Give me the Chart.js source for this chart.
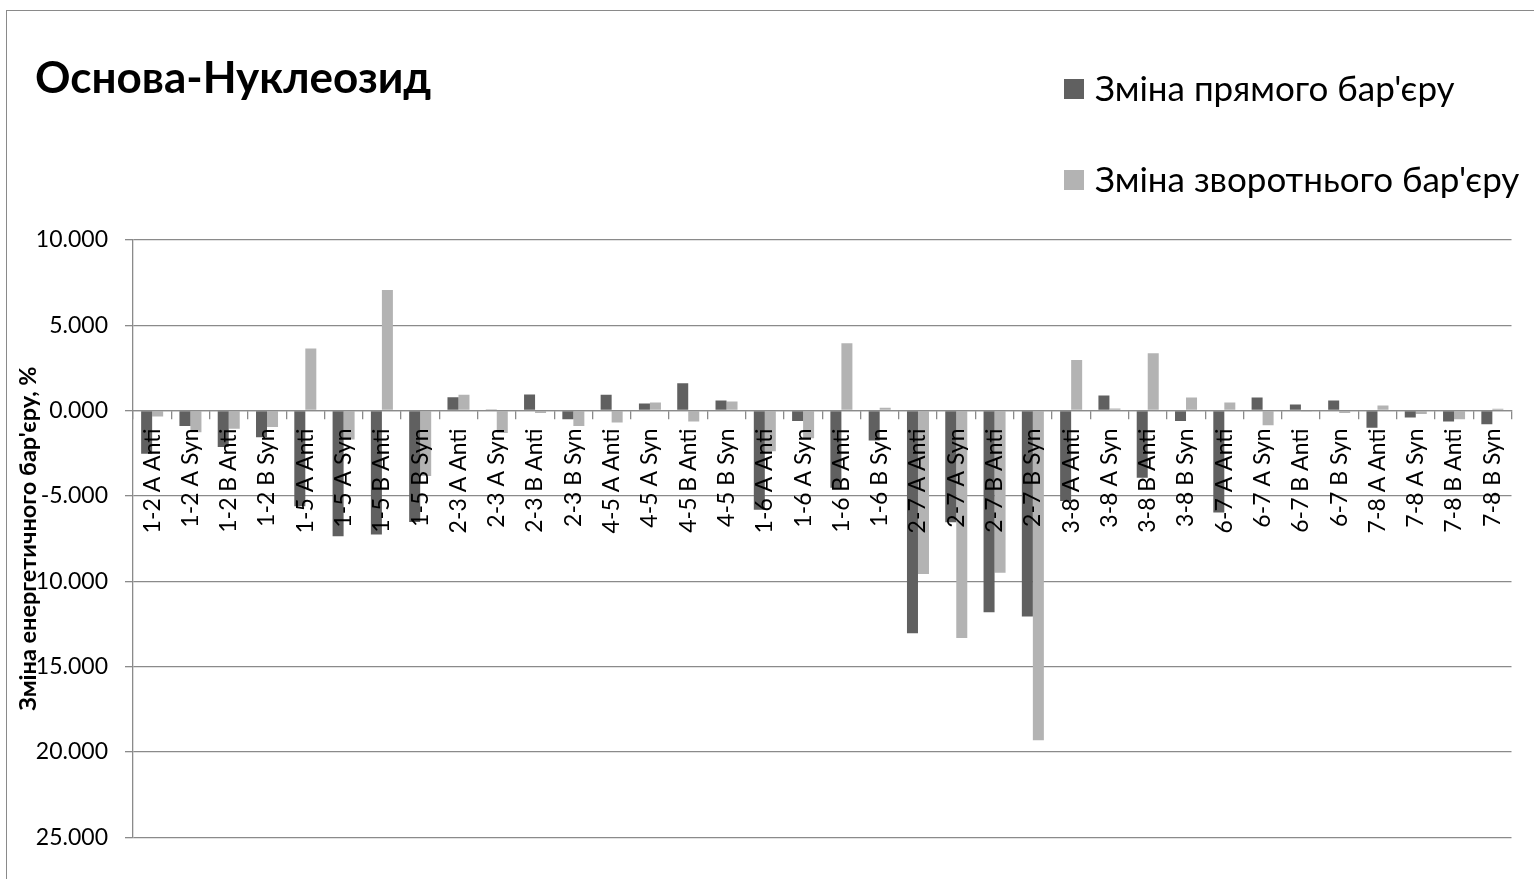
<!DOCTYPE html>
<html>
<head>
<meta charset="utf-8">
<script src="https://cdn.jsdelivr.net/npm/chart.js@4.4.1/dist/chart.umd.min.js"></script>
<style>
  html, body { margin: 0; padding: 0; background: #fff; width: 1534px; height: 879px; overflow: hidden; }
  #frame { position: absolute; left: 6px; top: 10px; width: 1700px; height: 1000px; border: 1.5px solid #8a8a8a; box-sizing: border-box; }
  #chart { position: absolute; left: 0; top: 0; }
  .lg { position: absolute; left: 1064px; height: 40px; line-height: 40px; white-space: nowrap;
        font-family: Lato, 'Noto Sans', sans-serif; font-size: 35px; color: #000; }
  .sw { display: inline-block; width: 20px; height: 20px; margin-right: 11px; vertical-align: middle; position: relative; top: -3px; }
</style>
</head>
<body>
<div id="frame"></div>
<canvas id="chart" width="1534" height="879"></canvas>
<div id="legend"></div>
<script>
const chartTitle = "Основа-Нуклеозид";
const yAxisTitle = "Зміна енергетичного бар'єру, %";
const seriesNames = ["Зміна прямого бар'єру", "Зміна зворотнього бар'єру"];
const seriesColors = ["#606060", "#b3b3b3"];
const categories = [
  "1-2 A Anti", "1-2 A Syn", "1-2 B Anti", "1-2 B Syn",
  "1-5 A Anti", "1-5 A Syn", "1-5 B Anti", "1-5 B Syn",
  "2-3 A Anti", "2-3 A Syn", "2-3 B Anti", "2-3 B Syn",
  "4-5 A Anti", "4-5 A Syn", "4-5 B Anti", "4-5 B Syn",
  "1-6 A Anti", "1-6 A Syn", "1-6 B Anti", "1-6 B Syn",
  "2-7 A Anti", "2-7 A Syn", "2-7 B Anti", "2-7 B Syn",
  "3-8 A Anti", "3-8 A Syn", "3-8 B Anti", "3-8 B Syn",
  "6-7 A Anti", "6-7 A Syn", "6-7 B Anti", "6-7 B Syn",
  "7-8 A Anti", "7-8 A Syn", "7-8 B Anti", "7-8 B Syn"
];
const forwardBarrier = [
  -2.53, -0.90, -2.14, -1.56,
  -5.61, -7.37, -7.27, -6.53,
  0.78, 0.03, 0.94, -0.51,
  0.92, 0.41, 1.60, 0.58,
  -5.81, -0.62, -4.52, -1.75,
  -13.04, -6.55, -11.81, -12.07,
  -5.30, 0.88, -3.94, -0.62,
  -5.98, 0.76, 0.35, 0.58,
  -1.01, -0.41, -0.64, -0.80
];
const reverseBarrier = [
  -0.35, -1.27, -1.07, -0.97,
  3.63, -1.70, 7.06, -3.84,
  0.92, -1.31, -0.14, -0.90,
  -0.70, 0.47, -0.64, 0.53,
  -2.38, -1.62, 3.94, 0.16,
  -9.57, -13.33, -9.50, -19.32,
  2.96, 0.12, 3.35, 0.76,
  0.47, -0.86, -0.03, -0.14,
  0.29, -0.21, -0.51, 0.10
];
const yMin = -25, yMax = 10, yStep = 5;

const FONT = "Lato, 'Noto Sans', sans-serif";
const gridColor = "#8a8a8a";

// HTML legend built from series names
const legendTops = [67, 158];
const legendEl = document.getElementById('legend');
seriesNames.forEach((name, i) => {
  const d = document.createElement('div');
  d.className = 'lg';
  d.style.top = legendTops[i] + 'px';
  const sw = document.createElement('span');
  sw.className = 'sw';
  sw.style.background = seriesColors[i];
  d.appendChild(sw);
  d.appendChild(document.createTextNode(name));
  legendEl.appendChild(d);
});

new Chart(document.getElementById('chart'), {
  type: 'bar',
  data: {
    labels: categories,
    datasets: [
      { label: seriesNames[0], data: forwardBarrier, backgroundColor: seriesColors[0], borderWidth: 0, categoryPercentage: 0.575, barPercentage: 1.0 },
      { label: seriesNames[1], data: reverseBarrier, backgroundColor: seriesColors[1], borderWidth: 0, categoryPercentage: 0.575, barPercentage: 1.0 }
    ]
  },
  options: {
    responsive: false,
    animation: false,
    devicePixelRatio: 1,
    layout: { padding: { left: 35, right: 22.5, top: 0, bottom: 41.7 } },
    plugins: {
      legend: { display: false },
      tooltip: { enabled: false },
      title: {
        display: true, text: chartTitle, align: 'start', color: '#000',
        font: { family: FONT, size: 44, weight: 'bold' },
        padding: { top: 52, bottom: 135 }
      }
    },
    scales: {
      x: {
        position: { y: 0 },
        offset: true,
        grid: { display: true, drawOnChartArea: false, drawTicks: true, tickLength: 8, color: gridColor, lineWidth: 1.3, offset: true, z: 1 },
        border: { display: true, color: gridColor, width: 1.3, z: 1 },
        ticks: { z: 2, autoSkip: false, minRotation: 90, maxRotation: 90, color: '#000', padding: 10, font: { family: FONT, size: 23 } }
      },
      y: {
        min: yMin, max: yMax,
        ticks: { stepSize: yStep, color: '#000', padding: 17, font: { family: FONT, size: 23 }, callback: v => Number(v).toFixed(3) },
        grid: { color: gridColor, lineWidth: 1.3, tickLength: 8 },
        border: { display: true, color: gridColor, width: 1.3 },
        title: { display: true, text: yAxisTitle, color: '#000', font: { family: FONT, size: 23.5, weight: 'bold' }, padding: { top: -21, bottom: 0 } },
        afterFit: s => { s.width = 98; }
      }
    }
  }
});
</script>
</body>
</html>
